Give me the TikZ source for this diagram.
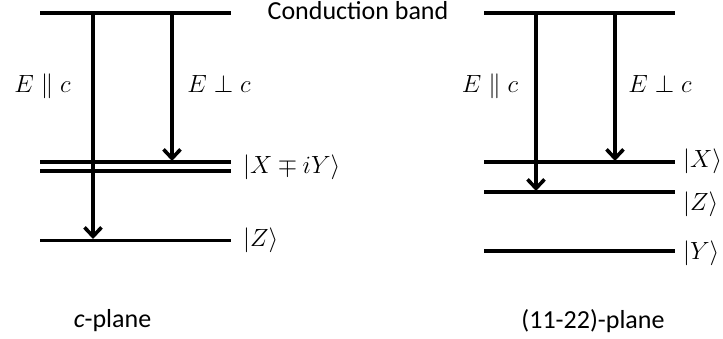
\documentclass[tikz,border=0pt]{standalone}
\usepackage{fontspec}
\setmainfont{Carlito}
\usetikzlibrary{arrows.meta}
\begin{document}
\begin{tikzpicture}[x=1pt,y=-1pt,
  level/.style={line width=3.8pt},
  trans/.style={line width=3.6pt,-{Straight Barb[length=9pt,width=17pt,line width=3.6pt]}},
  lbl/.style={inner sep=0pt,font=\fontsize{26}{30}\selectfont},
  mlbl/.style={inner sep=0pt,font=\fontsize{25}{30}\selectfont},
  klbl/.style={inner sep=0pt,font=\fontsize{24}{30}\selectfont}]
\useasboundingbox (0,0) rectangle (723,339);
% left (c-plane)
\coordinate (LCa) at (40,13);   \coordinate (LCb) at (231,13);
\coordinate (LXa) at (40,162);  \coordinate (LXb) at (231,162);
\coordinate (LXc) at (40,171);  \coordinate (LXd) at (231,171);
\coordinate (LZa) at (40,240.5);\coordinate (LZb) at (231,240.5);
\draw[level] (LCa) -- (LCb);
\draw[level] (LXa) -- (LXb);
\draw[level] (LXc) -- (LXd);
\draw[level] (LZa) -- (LZb);
\coordinate (L1s) at (93,13);  \coordinate (L1e) at (93,239);
\coordinate (L2s) at (172,13); \coordinate (L2e) at (172,161);
\draw[trans] (L1s) -- (L1e);
\draw[trans] (L2s) -- (L2e);
% right (11-22)-plane
\coordinate (RCa) at (484,13);  \coordinate (RCb) at (675,13);
\coordinate (RXa) at (484,162); \coordinate (RXb) at (675,162);
\coordinate (RZa) at (484,192); \coordinate (RZb) at (675,192);
\coordinate (RYa) at (484,251); \coordinate (RYb) at (675,251);
\draw[level] (RCa) -- (RCb);
\draw[level] (RXa) -- (RXb);
\draw[level] (RZa) -- (RZb);
\draw[level] (RYa) -- (RYb);
\coordinate (R1s) at (536,13); \coordinate (R1e) at (536,191);
\coordinate (R2s) at (615,13); \coordinate (R2e) at (615,161);
\draw[trans] (R1s) -- (R1e);
\draw[trans] (R2s) -- (R2e);
% labels
\node[lbl,anchor=base] (cb) at (358,20) {Conduction band};
\node[mlbl,anchor=base] (lpar) at (42.5,93) {$E\parallel c$};
\node[mlbl,anchor=base] (lperp) at (219,93) {$E\perp c$};
\node[mlbl,anchor=base] (rpar) at (490,93) {$E\parallel c$};
\node[mlbl,anchor=base] (rperp) at (660,93) {$E\perp c$};
\node[klbl,anchor=west] (kxy) at (243,167) {$|X\mp iY\rangle$};
\node[klbl,anchor=west] (kz) at (243,240) {$|Z\rangle$};
\node[klbl,anchor=west] (rkx) at (683,161) {$|X\rangle$};
\node[klbl,anchor=west] (rkz) at (683,204) {$|Z\rangle$};
\node[klbl,anchor=west] (rky) at (683,253) {$|Y\rangle$};
\node[lbl,anchor=base] (cp) at (112.5,327) {\textit{c}-plane};
\node[lbl,anchor=base] (ap) at (593,328) {(11-22)-plane};
\end{tikzpicture}
\end{document}
